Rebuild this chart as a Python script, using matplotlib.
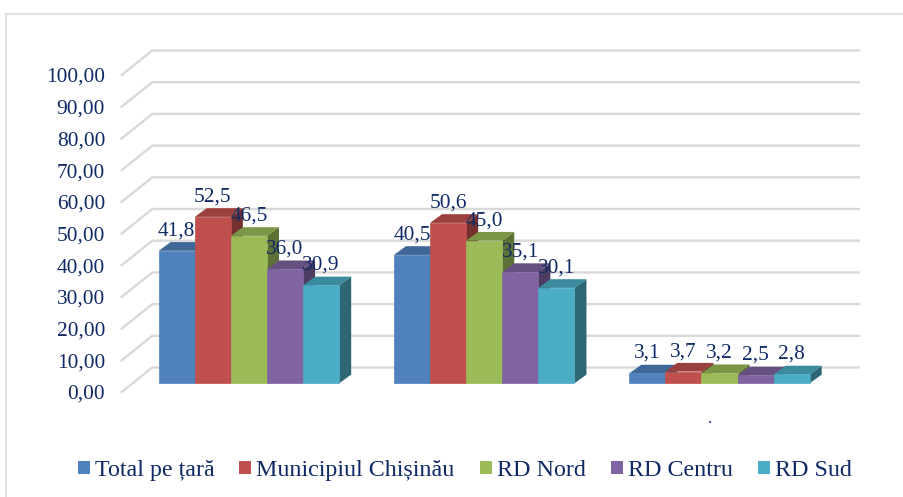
import matplotlib
matplotlib.use('Agg')
import matplotlib.pyplot as plt
from matplotlib.patches import Patch, Polygon, Rectangle

# valorile din grafic
categories = ['a', 'b', 'c']
series_names = ['Total pe țară', 'Municipiul Chișinău', 'RD Nord', 'RD Centru', 'RD Sud']
total_tara = [41.8, 40.5, 3.1]
chisinau = [52.5, 50.6, 3.7]
rd_nord = [46.5, 45.0, 3.2]
rd_centru = [36.0, 35.1, 2.5]
rd_sud = [30.9, 30.1, 2.8]
series = [total_tara, chisinau, rd_nord, rd_centru, rd_sud]
y_ticks = [0, 10, 20, 30, 40, 50, 60, 70, 80, 90, 100]

front_colors = ['#4F81BD', '#C0504D', '#9BBB59', '#8064A2', '#4BACC6']
top_colors = ['#3F6797', '#9A403E', '#7C9647', '#665082', '#3C8A9E']
side_colors = ['#2F4D71', '#73302E', '#5D7035', '#4C3C61', '#2D6776']
text_color = '#0F2A66'
grid_color = '#D9D9D9'

W, H = 904, 497
plt.rcParams['font.family'] = ['Liberation Serif', 'DejaVu Serif']

fig = plt.figure(figsize=(W / 100, H / 100), dpi=100)
fig.add_artist(Rectangle((6 / W, -5 / H), 1, (H - 14 + 5) / H, transform=fig.transFigure,
                         fill=False, edgecolor='#E3E3E3', linewidth=1.6))

# axa = planul din fata al podelei, in pixeli
left, right, top, bottom = 121.7, 827.5, 75, 392
ax = fig.add_axes([left / W, 1 - bottom / H, (right - left) / W, (bottom - top) / H])
ax.set_xlim(-0.5, 2.5)
ax.set_ylim(0, 100)
ax.patch.set_visible(False)
for s in ax.spines.values():
    s.set_visible(False)

px_x = 3 / (right - left)
px_y = 100 / (bottom - top)


def shift(x, y, dx, dy):
    return x + dx * px_x, y + dy * px_y


# liniile de grila
for v in y_ticks:
    xs = [-0.5, shift(-0.5, v, 30.6, 24.5)[0], 2.5 + 31.5 * px_x]
    ys = [v, v + 24.5 * px_y, v + 24.5 * px_y]
    ax.plot(xs, ys, color=grid_color, lw=1.7, clip_on=False, zorder=1, solid_joinstyle='miter')

ax.set_yticks(y_ticks)
ax.set_yticklabels([('%.2f' % v).replace('.', ',') for v in y_ticks])
ax.tick_params(axis='y', length=0, pad=12, labelsize=15.4, labelcolor=text_color)
ax.set_xticks([])

# barele 3D desenate din fete
bar_w = 36.1 * px_x
off_x, off_y = 9.6, 8.7
depth_x, depth_y = 12, 8.7
n = len(series)
for i, vals in enumerate(series):
    for g, v in enumerate(vals):
        x0 = g - n * bar_w / 2 + i * bar_w
        x0, y0 = shift(x0, 0, off_x, off_y)
        x1 = x0 + bar_w
        y1 = y0 + v
        ddx, ddy = depth_x * px_x, depth_y * px_y
        z = 3 + i * 0.1
        ax.add_patch(Polygon([(x1, y0), (x1 + ddx, y0 + ddy), (x1 + ddx, y1 + ddy), (x1, y1)],
                             facecolor=side_colors[i], edgecolor='none', clip_on=False, zorder=z))
        ax.add_patch(Polygon([(x0, y1), (x1, y1), (x1 + ddx, y1 + ddy), (x0 + ddx, y1 + ddy)],
                             facecolor=top_colors[i], edgecolor='none', clip_on=False, zorder=z))
        ax.add_patch(Polygon([(x0, y0), (x1, y0), (x1, y1), (x0, y1)],
                             facecolor=front_colors[i], edgecolor=front_colors[i], linewidth=0.5,
                             clip_on=False, zorder=z))

for i, vals in enumerate(series):
    for g, v in enumerate(vals):
        x0 = g - n * bar_w / 2 + (i + 0.5) * bar_w
        xc, yc = shift(x0, v, off_x, off_y)
        ax.annotate(('%.1f' % v).replace('.', ','), (xc, yc), xytext=(0, 20 * 0.72),
                    textcoords='offset points', ha='center', va='center',
                    fontsize=15.4, color=text_color, zorder=10, annotation_clip=False)

fig.text(710 / W, 1 - 419 / H, '.', fontsize=12, color=text_color, ha='center', va='center')

handles = [Patch(facecolor=c, edgecolor='none') for c in front_colors]
fig.legend(handles, series_names, loc='center', bbox_to_anchor=(464.5 / W, 1 - 470.5 / H), ncol=5,
           frameon=False, fontsize=17.3, labelcolor=text_color, handlelength=0.5, handleheight=0.5,
           handletextpad=0.21, columnspacing=1.04, borderpad=0, borderaxespad=0)

fig.savefig('out.png', dpi=100)
